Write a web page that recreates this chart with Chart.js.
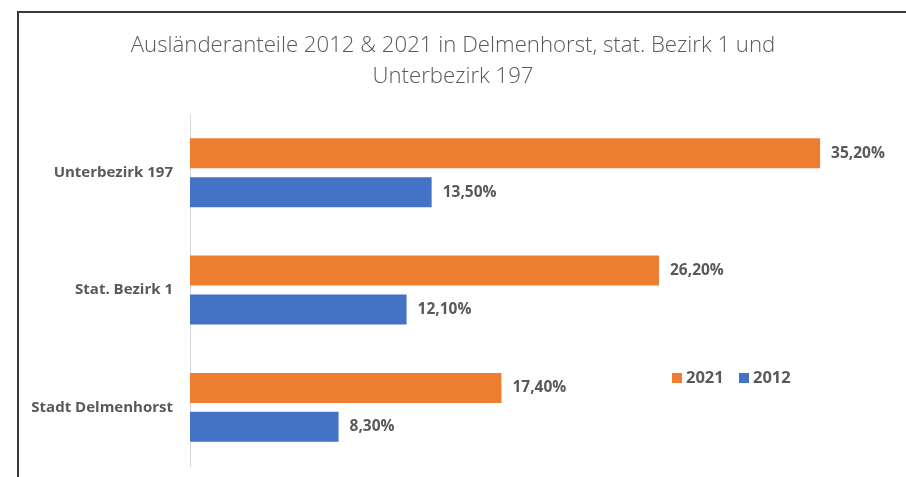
<!DOCTYPE html>
<html>
<head>
<meta charset="utf-8">
<script src="https://cdn.jsdelivr.net/npm/chart.js@4/dist/chart.umd.min.js"></script>
<style>
  html, body { margin: 0; padding: 0; background: #fff; overflow: hidden; }
  canvas { display: block; }
</style>
</head>
<body>
<canvas id="grafik" width="906" height="477"></canvas>
<script>
const kategorien = ['Unterbezirk 197', 'Stat. Bezirk 1', 'Stadt Delmenhorst'];
const werte2021 = [35.2, 26.2, 17.4];
const werte2012 = [13.5, 12.1, 8.3];

const grau = '#595959';
const orange = '#ED7D31';
const blau = '#4472C4';

function prozent(v) {
    return v.toFixed(2).replace('.', ',') + '%';
}

// Rahmen oben und links wie im Screenshot
const rahmen = {
    id: 'rahmen',
    beforeDraw(chart) {
        const c = chart.ctx;
        c.save();
        c.fillStyle = '#fff';
        c.fillRect(0, 0, chart.width, chart.height);
        c.strokeStyle = '#3a3a3a';
        c.lineWidth = 2;
        c.beginPath();
        c.moveTo(18, chart.height);
        c.lineTo(18, 12);
        c.lineTo(chart.width, 12);
        c.stroke();
        c.restore();
    }
};

// Werte hinter die Balken schreiben
const beschriftung = {
    id: 'beschriftung',
    afterDatasetsDraw(chart) {
        const c = chart.ctx;
        c.save();
        c.font = 'bold 15.5px "Open Sans"';
        c.fillStyle = grau;
        c.textAlign = 'left';
        c.textBaseline = 'middle';
        chart.data.datasets.forEach((ds, i) => {
            chart.getDatasetMeta(i).data.forEach((bar, j) => {
                c.fillText(prozent(ds.data[j]), bar.x + 11, bar.y);
            });
        });
        c.restore();
    }
};

// Legende rechts unten im Diagramm
const legende = {
    id: 'legende',
    afterDraw(chart) {
        const c = chart.ctx;
        const y = 378;
        let x = 672;
        c.save();
        c.font = 'bold 16.5px "Open Sans"';
        c.textBaseline = 'middle';
        chart.data.datasets.forEach(ds => {
            c.fillStyle = ds.backgroundColor;
            c.fillRect(x, y - 5, 10, 10);
            c.fillStyle = grau;
            c.fillText(ds.label, x + 14, y);
            x += 67;
        });
        c.restore();
    }
};

new Chart(document.getElementById('grafik'), {
    type: 'bar',
    data: {
        labels: kategorien,
        datasets: [{
                label: '2021',
                data: werte2021,
                backgroundColor: orange,
                categoryPercentage: 0.664,
                barPercentage: 0.77
            },
            {
                label: '2012',
                data: werte2012,
                backgroundColor: blau,
                categoryPercentage: 0.664,
                barPercentage: 0.77
            }
        ]
    },
    options: {
        indexAxis: 'y',
        responsive: false,
        animation: false,
        layout: {
            padding: { top: 0, right: 0, bottom: 11, left: 0 }
        },
        scales: {
            x: {
                display: false,
                min: 0,
                max: 40
            },
            y: {
                grid: { display: false, drawTicks: false },
                border: { display: true, color: '#d9d9d9', width: 1 },
                ticks: {
                    color: grau,
                    padding: 17,
                    font: { family: 'Open Sans', weight: 'bold', size: 15 }
                },
                afterFit(scale) {
                    scale.width = 190;
                    // tick padding soll nicht oben/unten Platz wegnehmen
                    scale.paddingTop = 0;
                    scale.paddingBottom = 0;
                }
            }
        },
        plugins: {
            legend: { display: false },
            tooltip: { enabled: false },
            title: {
                display: true,
                text: ['Ausländeranteile 2012 & 2021 in Delmenhorst, stat. Bezirk 1 und', 'Unterbezirk 197'],
                color: grau,
                padding: { top: 30, bottom: 22 },
                font: { family: 'Open Sans', weight: 300, size: 22.2, lineHeight: 1.4 }
            }
        }
    },
    plugins: [rahmen, beschriftung, legende]
});
</script>
</body>
</html>
